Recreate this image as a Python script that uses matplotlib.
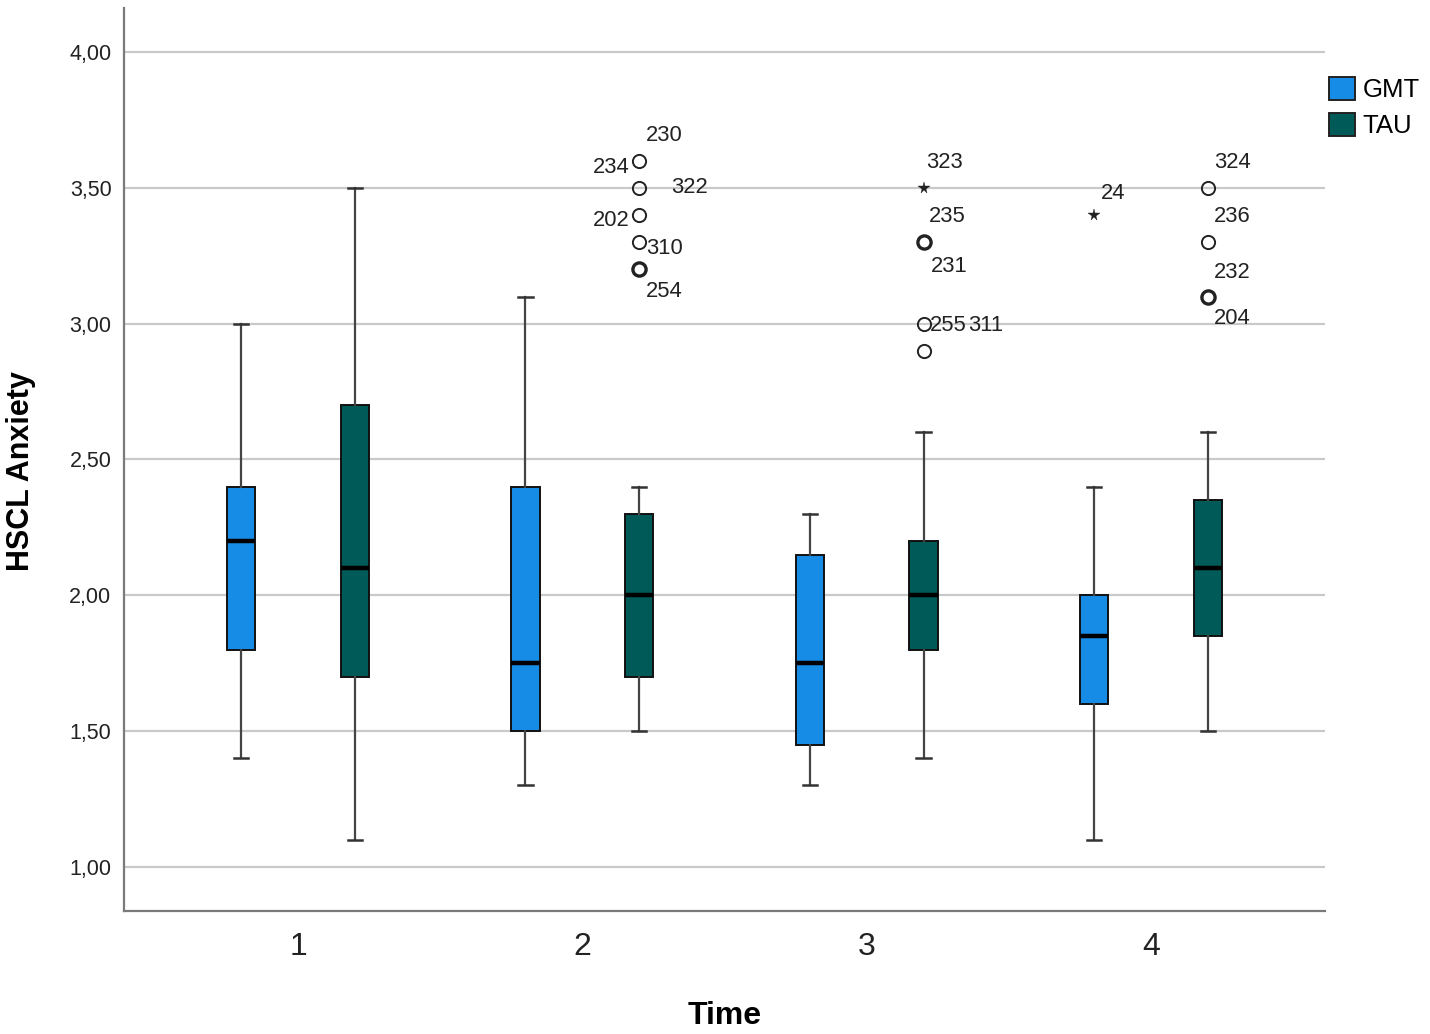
import matplotlib
matplotlib.use("Agg")
import matplotlib.pyplot as plt
from matplotlib.patches import Patch

plt.rcParams['font.family'] = ['Liberation Sans', 'DejaVu Sans']

# ---------------- data ----------------
times = [1, 2, 3, 4]
groups = ["GMT", "TAU"]
# box statistics per time (whisker low, Q1, median, Q3, whisker high)
gmt_whislo = [1.40, 1.30, 1.30, 1.10]
gmt_q1     = [1.80, 1.50, 1.45, 1.60]
gmt_med    = [2.20, 1.75, 1.75, 1.85]
gmt_q3     = [2.40, 2.40, 2.15, 2.00]
gmt_whishi = [3.00, 3.10, 2.30, 2.40]

tau_whislo = [1.10, 1.50, 1.40, 1.50]
tau_q1     = [1.70, 1.70, 1.80, 1.85]
tau_med    = [2.10, 2.00, 2.00, 2.10]
tau_q3     = [2.70, 2.30, 2.20, 2.35]
tau_whishi = [3.50, 2.40, 2.60, 2.60]

# outliers: time, group, value, kind ('o' = outlier, '*' = extreme), count
out_time  = [2, 2, 2, 2, 2, 3, 3, 3, 3, 4, 4, 4, 4]
out_group = ["TAU", "TAU", "TAU", "TAU", "TAU", "TAU", "TAU", "TAU", "TAU", "GMT", "TAU", "TAU", "TAU"]
out_value = [3.60, 3.50, 3.40, 3.30, 3.20, 3.50, 3.30, 3.00, 2.90, 3.40, 3.50, 3.30, 3.10]
out_kind  = ["o", "o", "o", "o", "o", "*", "o", "o", "o", "*", "o", "o", "o"]
out_count = [1, 1, 1, 1, 2, 1, 2, 1, 1, 1, 1, 1, 2]

# case labels: time, group, value, text
lab_time  = [2, 2, 2, 2, 2, 2, 3, 3, 3, 3, 3, 4, 4, 4, 4, 4]
lab_group = ["TAU"] * 11 + ["GMT"] + ["TAU"] * 4
lab_value = [3.60, 3.60, 3.50, 3.40, 3.30, 3.20, 3.50, 3.30, 3.30, 3.00, 3.00, 3.40, 3.50, 3.30, 3.10, 3.10]
lab_text  = ["230", "234", "322", "202", "310", "254", "323", "235", "231", "255", "311", "24", "324", "236", "232", "204"]

y_ticks = [1.0, 1.5, 2.0, 2.5, 3.0, 3.5, 4.0]
y_tick_labels = ["1,00", "1,50", "2,00", "2,50", "3,00", "3,50", "4,00"]
x_label = "Time"
y_label = "HSCL Anxiety"

# ---------------- layout / style ----------------
# label offsets in pixels (dx, dy, ha)
lab_offsets = [(7, 25, "left"), (-10, -7, "right"), (32, 0, "left"), (-10, -5, "right"),
               (7, -6, "left"), (7, -22, "left"), (3, 25, "left"), (5, 26, "left"),
               (7, -24, "left"), (6, -2, "left"), (45, -2, "left"), (7, 22, "left"),
               (6, 25, "left"), (6, 26, "left"), (6, 24, "left"), (6, -22, "left")]

colors = {"GMT": "#168ce6", "TAU": "#005a58"}
offsets = {"GMT": -0.2, "TAU": 0.2}
box_w = 0.1

fig = plt.figure(figsize=(14.30, 10.34), dpi=100)
ax = fig.add_axes([124 / 1430, 1 - 911 / 1034, 1201 / 1430, 903 / 1034])

ax.set_xlim(0.388, 4.612)
ax.set_ylim(0.838, 4.162)

for y in y_ticks:
    ax.axhline(y, color="#c9c9c9", lw=1.6, zorder=0)

stats_by_group = {
    "GMT": (gmt_whislo, gmt_q1, gmt_med, gmt_q3, gmt_whishi),
    "TAU": (tau_whislo, tau_q1, tau_med, tau_q3, tau_whishi),
}
for g in groups:
    lo, q1, med, q3, hi = stats_by_group[g]
    stats = []
    for i in range(len(times)):
        stats.append(dict(whislo=lo[i], q1=q1[i], med=med[i], q3=q3[i], whishi=hi[i], fliers=[]))
    pos = [t + offsets[g] for t in times]
    ax.bxp(stats, positions=pos, widths=box_w, capwidths=box_w / 2, patch_artist=True,
           showfliers=False, manage_ticks=False,
           boxprops=dict(facecolor=colors[g], edgecolor="#111111", linewidth=1.4),
           medianprops=dict(color="black", linewidth=3.2),
           whiskerprops=dict(color="#444444", linewidth=1.6),
           capprops=dict(color="#333333", linewidth=1.8), zorder=3)

for t, g, v, k, c in zip(out_time, out_group, out_value, out_kind, out_count):
    x = t + offsets[g]
    if k == "o":
        ax.plot([x], [v], marker="o", ms=9.5, mfc="none", mec="#222222",
                mew=1.4 if c == 1 else 2.4, zorder=4)
    else:
        ax.plot([x], [v], marker="*", ms=8.5, mfc="#222222", mec="#222222", mew=0.3, zorder=4)

for t, g, v, s, (dx, dy, ha) in zip(lab_time, lab_group, lab_value, lab_text, lab_offsets):
    ax.annotate(s, xy=(t + offsets[g], v), xytext=(dx, dy), textcoords="offset pixels",
                ha=ha, va="center", fontsize=15.8, color="#222222", zorder=5)

ax.set_yticks(y_ticks)
ax.set_yticklabels(y_tick_labels)
ax.set_xticks(times)
ax.set_xticklabels([str(t) for t in times])
ax.tick_params(axis="y", length=0, pad=9, labelsize=15.5, labelcolor="#222222")
ax.tick_params(axis="x", length=0, pad=15, labelsize=23, labelcolor="#222222")

for sp in ["top", "right"]:
    ax.spines[sp].set_visible(False)
for sp in ["left", "bottom"]:
    ax.spines[sp].set_color("#7a7a7a")
    ax.spines[sp].set_linewidth(1.6)

ax.set_xlabel(x_label, fontsize=23, fontweight="bold")
ax.set_ylabel(y_label, fontsize=22, fontweight="bold")
ax.xaxis.set_label_coords(0.5, -0.100)
ax.yaxis.set_label_coords(-0.073, 0.487)

handles = [Patch(facecolor=colors[g], edgecolor="#222222", linewidth=1.4, label=g) for g in groups]
fig.legend(handles=handles, loc="upper left", bbox_to_anchor=(1329 / 1430, 1 - 77 / 1034),
           frameon=False, fontsize=18.5, handlelength=1.0, handleheight=1.0,
           handletextpad=0.3, labelspacing=0.42, borderpad=0, borderaxespad=0)

fig.savefig("out.png", dpi=100)
